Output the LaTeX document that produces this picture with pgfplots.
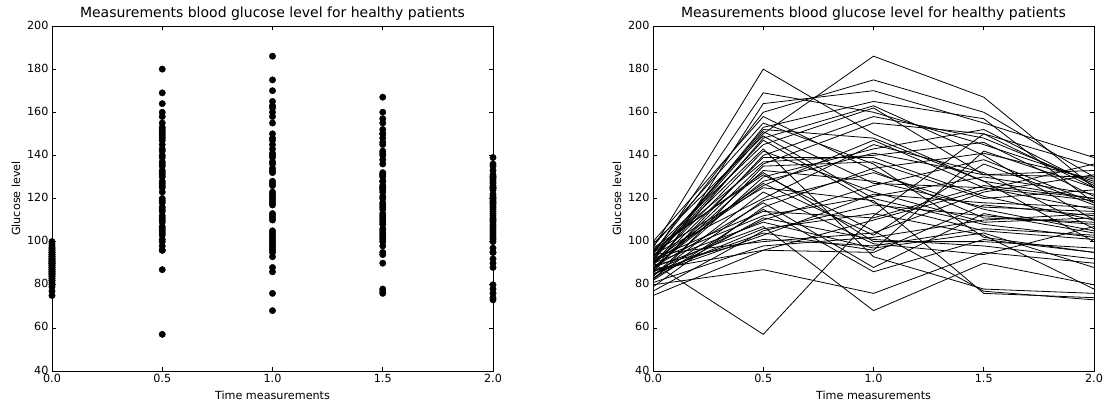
\documentclass[border=0pt]{standalone}
\usepackage{fontspec}
\setmainfont{DejaVu Sans}
\usepackage{pgfplots}
\usepackage{pgfplotstable}
\pgfplotsset{compat=1.18}
\pgfplotstableread{
t0 t05 t1 t15 t2
97 180 150 128 120
90 57 112 150 125
80 87 76 95 90
88 107 68 90 80
92 150 186 167 125
95 160 175 160 130
85 164 170 155 139
94 169 160 145 128
91 153 165 157 118
89 148 163 140 110
96 145 162 131 133
86 140 158 148 127
87 136 155 150 135
93 152 148 128 100
84 130 143 152 126
90 126 147 125 115
95 137 140 146 121
82 135 137 120 124
88 128 141 131 130
98 155 136 102 95
79 116 134 141 129
83 119 132 115 105
91 112 121 130 122
86 110 126 138 118
99 149 120 108 102
77 105 117 112 108
92 114 111 126 120
85 103 122 118 116
94 100 104 123 131
81 98 102 110 113
89 101 98 106 103
96 132 100 100 97
87 96 95 117 112
90 109 97 104 88
93 143 93 78 76
84 123 99 94 107
97 131 105 77 73
88 118 88 113 104
82 115 86 101 95
95 125 119 76 74
86 104 96 142 125
91 127 103 136 117
89 139 139 121 110
92 147 118 105 101
83 111 101 98 92
94 120 145 132 106
87 133 128 116 114
90 142 123 109 111
93 151 127 125 119
85 106 113 103 78
75 96 110 124 136
100 158 133 111 109
}\W
\pgfplotstabletranspose\T\W
\pgfplotsset{
  gl/.style={
    scale only axis, width=441pt, height=345pt,
    xmin=0, xmax=2, ymin=40, ymax=200,
    xtick={0,0.5,1,1.5,2}, ytick={40,60,...,200},
    xticklabel style={/pgf/number format/.cd, fixed, fixed zerofill, precision=1},
    /pgf/number format/assume math mode=true,
    tick align=inside, major tick length=4pt,
    tick style={black, line width=0.6pt},
    axis line style={line width=0.8pt, black},
    ticklabel style={font=\fontsize{11.2}{13}\selectfont},
    yticklabel style={yshift=1pt},
    label style={font=\fontsize{11.2}{13}\selectfont},
    title style={font=\fontsize{14}{16}\selectfont, yshift=-4pt},
    xlabel={Time measurements}, ylabel={Glucose level},
    xlabel style={yshift=-1pt}, ylabel style={yshift=0pt},
    title={Measurements blood glucose level for healthy patients},
    clip=false,
  }
}
\begin{document}
\begin{tikzpicture}
\path[use as bounding box] (-52pt,-31pt) rectangle (1060pt,371pt);
\begin{axis}[gl, at={(0pt,0pt)}, anchor=south west]
\addplot[only marks, mark=*, mark size=3.2pt, black] table[x expr=0, y=t0]{\W};
\addplot[only marks, mark=*, mark size=3.2pt, black] table[x expr=0.5, y=t05]{\W};
\addplot[only marks, mark=*, mark size=3.2pt, black] table[x expr=1, y=t1]{\W};
\addplot[only marks, mark=*, mark size=3.2pt, black] table[x expr=1.5, y=t15]{\W};
\addplot[only marks, mark=*, mark size=3.2pt, black] table[x expr=2, y=t2]{\W};
\end{axis}
\begin{axis}[gl, at={(601pt,0pt)}, anchor=south west, clip=true]
\pgfplotsinvokeforeach{1,...,52}{
  \addplot[black, line width=0.8pt, no marks] table[x expr=\coordindex*0.5, y index=#1]{\T};
}
\end{axis}
\end{tikzpicture}
\end{document}
